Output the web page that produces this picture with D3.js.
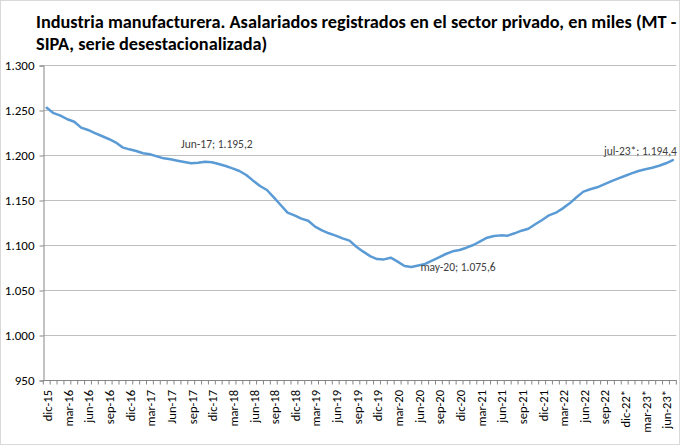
<!DOCTYPE html>
<html><head><meta charset="utf-8">
<script src="https://cdn.jsdelivr.net/npm/d3@7"></script>
<style>
html,body{margin:0;padding:0;background:#fff;}
svg{display:block;font-family:Carlito,Lato,"Open Sans",sans-serif;}
</style></head>
<body>
<svg id="c" width="680" height="445"></svg>
<script>
const titleLines = ["Industria manufacturera. Asalariados registrados en el sector privado, en miles (MT -", "SIPA, serie desestacionalizada)"];
const tickLabels = ["dic-15","mar-16","jun-16","sep-16","dic-16","mar-17","Jun-17","sep-17","dic-17","mar-18","jun-18","sep-18","dic-18","mar-19","jun-19","sep-19","dic-19","mar-20","jun-20","sep-20","dic-20","mar-21","jun-21","sep-21","dic-21","mar-22","jun-22","sep-22","dic-22*","mar-23*","jun-23*"];
const monthNames = ["ene","feb","mar","abr","may","jun","jul","ago","sep","oct","nov","dic"];
const values = [
 1252.5,1246.5,1243.8,1239.7,1237.0,1230.4,1227.8,1224.4,1221.1,1217.8,1214.1,1208.5,
 1206.3,1204.4,1201.9,1200.8,1198.5,1196.3,1195.2,1193.7,1192.2,1190.8,1191.5,1192.6,
 1192.0,1190.0,1187.8,1185.2,1182.2,1177.8,1171.5,1165.6,1161.1,1153.0,1144.4,1135.9,
 1133.0,1129.3,1127.0,1120.4,1116.3,1113.0,1110.4,1107.4,1104.8,1098.1,1092.6,1087.6,
 1084.4,1084.0,1085.9,1081.5,1076.7,1075.6,1077.2,1078.9,1082.6,1086.3,1090.0,1093.0,
 1094.4,1097.0,1100.0,1104.1,1108.1,1110.0,1110.7,1110.4,1113.0,1115.9,1118.1,1123.0,
 1127.8,1133.0,1135.9,1140.7,1146.3,1153.0,1159.3,1161.9,1164.1,1167.4,1170.7,1173.7,
 1176.7,1179.6,1182.2,1184.1,1185.9,1188.1,1190.8,1194.4];
const yTicks = [950,1000,1050,1100,1150,1200,1250,1300];
const labeledPoints = [
  {index:18, text:"Jun-17"},
  {index:53, text:"may-20"},
  {index:91, text:"jul-23*"}
];

// categories: dic-15 ... jul-23 (monthly)
const categories = values.map((v,i)=>{
  const m = (11 + i) % 12;
  const y = 15 + Math.floor((11 + i)/12);
  return monthNames[m] + "-" + y;
});

const loc = d3.formatLocale({decimal:",", thousands:".", grouping:[3], currency:["$",""]});
const fmtInt = loc.format(",d");
const fmtVal = loc.format(",.1f");

const svg = d3.select("#c");
const W = 680, H = 445;
const L = 43.3, R = 676.3, T = 65, B = 380;

svg.append("rect").attr("x",0.5).attr("y",0.5).attr("width",W-1).attr("height",H-1)
  .attr("fill","#fff").attr("stroke","#d9d9d9");

// title
const tg = svg.append("g").attr("font-weight","bold").attr("fill","#000");
const tl = tg.selectAll("text").data(titleLines).join("text")
  .attr("x",36).attr("y",(d,i)=>28+i*22).attr("font-size",16).text(d=>d);
const len0 = tl.nodes()[0].getComputedTextLength();
const fs = 16*641/len0;
tl.attr("font-size",fs);

const x = d3.scaleBand().domain(d3.range(values.length)).range([L,R]).padding(0);
const y = d3.scaleLinear().domain([950,1300]).range([B,T]);

// gridlines
svg.append("g").selectAll("line").data(yTicks.filter(t=>t>950)).join("line")
  .attr("x1",L).attr("x2",R).attr("y1",d=>Math.round(y(d))+0.5).attr("y2",d=>Math.round(y(d))+0.5)
  .attr("stroke","#bfbfbf").attr("stroke-width",1);

// y axis
const yAxis = d3.axisLeft(y).tickValues(yTicks).tickFormat(fmtInt).tickSize(4).tickPadding(5);
const yg = svg.append("g").attr("transform",`translate(${Math.round(L)+0.5},0.5)`).call(yAxis);
yg.select(".domain").attr("stroke","#868686");
yg.selectAll(".tick line").attr("stroke","#868686");
yg.selectAll(".tick text").attr("font-size",13).attr("fill","#000").attr("font-family","Carlito,Lato,sans-serif");

// x axis: tick marks at category boundaries
const xg = svg.append("g");
xg.append("line").attr("x1",L).attr("x2",R).attr("y1",B+0.5).attr("y2",B+0.5).attr("stroke","#868686");
xg.selectAll("line.tk").data(d3.range(values.length+1)).join("line").attr("class","tk")
  .attr("x1",i=>L + i*x.step()).attr("x2",i=>L + i*x.step())
  .attr("y1",B).attr("y2",B+4.5).attr("stroke","#868686");
xg.selectAll("text").data(tickLabels).join("text")
  .attr("transform",(d,k)=>`translate(${x(k*3)+x.bandwidth()/2+1},${B+10}) rotate(-90)`)
  .attr("text-anchor","end").attr("dy","0.35em").attr("font-size",12.5).attr("fill","#000")
  .text(d=>d);

// line
const line = d3.line().x((d,i)=>x(i)+x.bandwidth()/2).y(d=>y(d)).curve(d3.curveLinear);
svg.append("path").datum(values).attr("d",line).attr("fill","none")
  .attr("stroke","#5b9bd5").attr("stroke-width",2.5).attr("stroke-linejoin","round").attr("stroke-linecap","round");

// data labels
const offs = {18:{dx:10.5,dy:-15,anchor:"start"},53:{dx:9,dy:0,anchor:"start"},91:{dx:4,dy:-9,anchor:"end"}};
svg.append("g").selectAll("text").data(labeledPoints).join("text")
  .attr("x",d=>x(d.index)+x.bandwidth()/2+offs[d.index].dx)
  .attr("y",d=>y(values[d.index])+offs[d.index].dy)
  .attr("dy","0.35em").attr("text-anchor",d=>offs[d.index].anchor)
  .attr("font-size",11.5).attr("fill","#404040")
  .text(d=>d.text+"; "+fmtVal(values[d.index]));
</script>
</body></html>
